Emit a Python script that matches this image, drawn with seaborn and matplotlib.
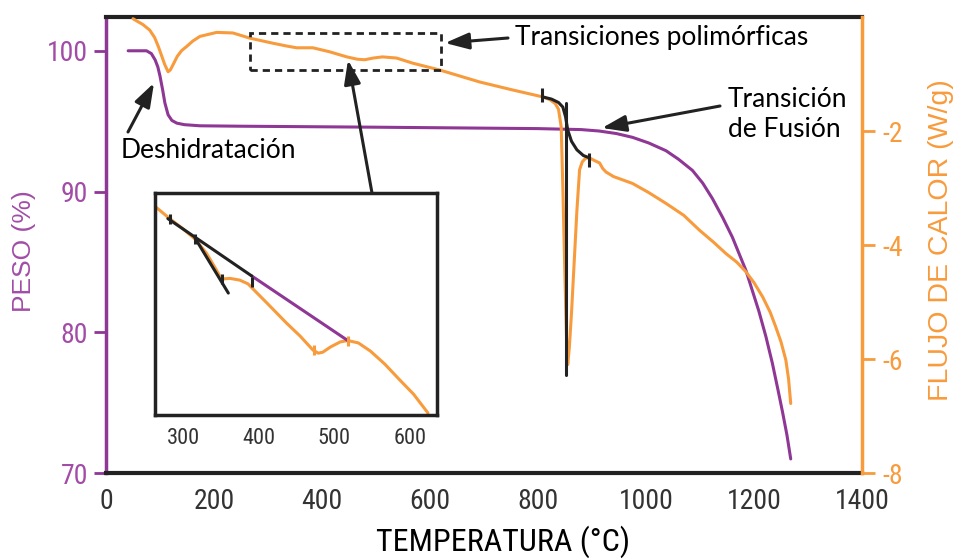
import matplotlib
matplotlib.use("Agg")
import matplotlib.pyplot as plt
from matplotlib.patches import Rectangle
import numpy as np
import pandas as pd
import seaborn as sns

# ---------------- data ----------------
# Weight loss (TGA), left axis
temp_peso = [41, 75, 84, 91, 96, 100, 105, 109, 115, 122, 131, 145, 174, 250, 360,
             500, 650, 800, 880, 913, 945, 975, 1005, 1037, 1060, 1086, 1105, 1123, 1142,
             1160, 1185, 1209, 1222, 1234, 1245, 1253, 1261, 1268]
peso = [100, 100, 99.8, 99.35, 98.85, 98.2, 97.2, 96.3, 95.45, 95.05, 94.86, 94.75, 94.67,
        94.64, 94.61, 94.57, 94.52, 94.47, 94.40, 94.30, 94.12, 93.85, 93.45, 92.9, 92.3,
        91.5, 90.6, 89.5, 88.15, 86.75, 84.4, 81.5, 79.7, 77.8, 75.8, 74.3, 72.7, 71.0]

# Heat flow (DSC), right axis
temp_flujo = [50, 57, 68, 81, 90, 97, 103, 109, 115, 119, 124, 132, 140, 149, 161, 174,
              205, 235, 266, 309, 335, 353, 383, 414, 446, 465, 479, 495, 512, 538, 568,
              618, 692, 753, 808, 822, 832, 838, 843, 846, 850, 853, 855, 858, 862, 867,
              872, 877, 882, 888, 895, 905, 914, 920, 926, 940, 975, 1005, 1037, 1070,
              1099, 1125, 1148, 1168, 1185, 1200, 1216, 1230, 1240, 1250, 1259, 1264, 1268]
flujo = [-0.03, -0.07, -0.13, -0.23, -0.36, -0.52, -0.68, -0.84, -0.96, -0.93, -0.84, -0.69,
         -0.59, -0.52, -0.42, -0.34, -0.27, -0.28, -0.37, -0.46, -0.51, -0.54, -0.54, -0.61,
         -0.70, -0.74, -0.75, -0.72, -0.70, -0.72, -0.81, -0.93, -1.14, -1.28, -1.40, -1.45,
         -1.52, -1.62, -1.93, -3.00, -4.60, -5.70, -6.10, -5.80, -5.20, -4.30, -3.40, -2.68,
         -2.54, -2.48, -2.47, -2.52, -2.56, -2.66, -2.72, -2.80, -2.92, -3.08, -3.27, -3.48,
         -3.74, -3.95, -4.15, -4.30, -4.47, -4.66, -4.91, -5.18, -5.43, -5.70, -6.02, -6.35,
         -6.78]

# Melting transition construction lines (right axis units)
fusion_temp = [808, 825, 838, 846, 851, 855, 862, 872, 884, 895]
fusion_flujo = [-1.40, -1.44, -1.50, -1.58, -1.75, -1.98, -2.18, -2.33, -2.43, -2.47]
fusion_drop_temp = [851, 851]
fusion_drop_flujo = [-1.51, -6.28]
fusion_marks_temp = [808, 895]
fusion_marks_flujo = [-1.37, -2.50]

# Zoomed inset (polymorphic transitions)
inset_temp = [264, 283, 300, 316, 331, 342, 351, 362, 375, 386, 394, 411, 437, 455, 472,
              479, 485, 495, 508, 518, 532, 548, 567, 587, 605, 624]
inset_flujo = [-0.441, -0.476, -0.505, -0.535, -0.576, -0.617, -0.652, -0.650, -0.655,
               -0.666, -0.684, -0.722, -0.781, -0.819, -0.860, -0.869, -0.866, -0.851,
               -0.836, -0.832, -0.839, -0.863, -0.901, -0.948, -0.989, -1.044]
tangent1_temp = [280, 391]
tangent1_flujo = [-0.475, -0.643]
tangent2_temp = [316, 360]
tangent2_flujo = [-0.532, -0.693]
bridge_temp = [391, 518]
bridge_flujo = [-0.643, -0.832]
inset_black_marks_temp = [283, 316, 351, 391]
inset_black_marks_flujo = [-0.476, -0.535, -0.652, -0.660]
inset_orange_marks_temp = [473, 518]
inset_orange_marks_flujo = [-0.860, -0.832]

x_ticks = [0, 200, 400, 600, 800, 1000, 1200, 1400]
peso_ticks = [70, 80, 90, 100]
flujo_ticks = [-8, -6, -4, -2]
inset_ticks = [300, 400, 500, 600]

# ---------------- style ----------------
PURPLE = "#8E3795"
PURPLE_TXT = "#A24CA7"
ORANGE = "#F89B3C"
BLACK = "#222222"
GREY_TXT = "#333333"

sns.set_style("white")
NARROW = ["Roboto Condensed", "Liberation Sans", "DejaVu Sans"]
plt.rcParams["font.family"] = NARROW
plt.rcParams["axes.unicode_minus"] = False

W, H = 958, 558
fig = plt.figure(figsize=(W / 100, H / 100), dpi=100)

L, R, T, B = 106, 862, 17, 473
ax = fig.add_axes([L / W, 1 - B / H, (R - L) / W, (B - T) / H])
ax2 = ax.twinx()

df_w = pd.DataFrame({"temp": temp_peso, "peso": peso})
df_h = pd.DataFrame({"temp": temp_flujo, "flujo": flujo})

sns.lineplot(data=df_w, x="temp", y="peso", ax=ax, color=PURPLE, lw=2.2,
             estimator=None, sort=False)
sns.lineplot(data=df_h, x="temp", y="flujo", ax=ax2, color=ORANGE, lw=2.2,
             estimator=None, sort=False, zorder=2)
sns.lineplot(x=fusion_temp, y=fusion_flujo, ax=ax2, color=BLACK, lw=2.2,
             estimator=None, sort=False, zorder=3)
sns.lineplot(x=fusion_drop_temp, y=fusion_drop_flujo, ax=ax2, color=BLACK, lw=2.2,
             estimator=None, sort=False, zorder=3)
sns.scatterplot(x=fusion_marks_temp, y=fusion_marks_flujo, ax=ax2, marker="|", s=110,
                linewidth=2.2, color=BLACK, zorder=4)

ax.set_xlim(0, 1400)
ax.set_ylim(70, 102.4)
ax2.set_ylim(-8, 0)
ax.set_xticks(x_ticks)
ax.set_yticks(peso_ticks)
ax2.set_yticks(flujo_ticks)
ax.set_xlabel("")
ax.set_ylabel("")
ax2.set_ylabel("")

ax.tick_params(axis="x", direction="out", length=6, width=2, color=BLACK,
               labelsize=20, labelcolor=GREY_TXT, pad=5)
ax.tick_params(axis="y", direction="out", length=9, width=2, color=PURPLE,
               labelsize=20, labelcolor=PURPLE_TXT, pad=4)
ax2.tick_params(axis="y", direction="out", length=9, width=2, color=ORANGE,
                labelsize=20, labelcolor=ORANGE, pad=6)

for s in ["top", "bottom"]:
    ax.spines[s].set_color(BLACK)
    ax.spines[s].set_linewidth(3)
ax.spines["left"].set_color(PURPLE)
ax.spines["left"].set_linewidth(2.5)
ax.spines["right"].set_visible(False)
for s in ["left", "top", "bottom"]:
    ax2.spines[s].set_visible(False)
ax2.spines["right"].set_color(ORANGE)
ax2.spines["right"].set_linewidth(2.5)

# dashed box around polymorphic transitions
ax2.add_patch(Rectangle((266, -0.93), 355, 0.65, fill=False, ls=(0, (2.6, 1.8)),
                        lw=2, ec=BLACK, zorder=3))

# axis titles
fig.text(24 / W, 1 - 251 / H, "PESO (%)", rotation=90, ha="center", va="center",
         fontsize=19, color=PURPLE_TXT, family=["Liberation Sans", "DejaVu Sans"])
fig.text(941 / W, 1 - 240 / H, "FLUJO DE CALOR (W/g)", rotation=90, ha="center",
         va="center", fontsize=20.5, color=ORANGE, family=["Liberation Sans", "DejaVu Sans"])
fig.text(503 / W, 1 - 551 / H, "TEMPERATURA (°C)", ha="center", va="baseline",
         fontsize=23, color="black")

# annotations
ANN_FONT = ["Lato", "DejaVu Sans"]
fig.text(121 / W, 1 - 158 / H, "Deshidratación", ha="left", va="baseline",
         fontsize=19, family=ANN_FONT, color="black")
fig.text(515 / W, 1 - 45 / H, "Transiciones polimórficas", ha="left", va="baseline",
         fontsize=19, family=ANN_FONT, color="black")
fig.text(728 / W, 1 - 107 / H, "Transición", ha="left", va="baseline",
         fontsize=19, family=ANN_FONT, color="black")
fig.text(728 / W, 1 - 137 / H, "de Fusión", ha="left", va="baseline",
         fontsize=19, family=ANN_FONT, color="black")

arrow_kw = dict(arrowstyle="-|>,head_length=1.45,head_width=0.5", mutation_scale=10,
                lw=2.2, color=BLACK, shrinkA=0, shrinkB=0)


def fp(x, y):
    return (x, H - y)


for tail, tip in [((128, 132), (154, 83)), ((508, 38), (445, 43)),
                  ((372, 193), (348, 60)), ((720, 106), (602, 128))]:
    ax2.annotate("", xy=fp(*tip), xytext=fp(*tail), xycoords="figure pixels",
                 textcoords="figure pixels", arrowprops=arrow_kw, zorder=10)

# ---------------- inset ----------------
IL, IR, IT, IB = 155, 437, 193, 415
axin = fig.add_axes([IL / W, 1 - IB / H, (IR - IL) / W, (IB - IT) / H])
axin.set_facecolor("white")
sns.lineplot(x=inset_temp, y=inset_flujo, ax=axin, color=ORANGE, lw=2.2,
             estimator=None, sort=False)
sns.lineplot(x=bridge_temp, y=bridge_flujo, ax=axin, color=PURPLE, lw=2.2,
             estimator=None, sort=False)
sns.lineplot(x=tangent1_temp, y=tangent1_flujo, ax=axin, color=BLACK, lw=2.2,
             estimator=None, sort=False)
sns.lineplot(x=tangent2_temp, y=tangent2_flujo, ax=axin, color=BLACK, lw=2.2,
             estimator=None, sort=False)
sns.scatterplot(x=inset_black_marks_temp, y=inset_black_marks_flujo, ax=axin, marker="|",
                s=55, linewidth=2.2, color=BLACK, zorder=4)
sns.scatterplot(x=inset_orange_marks_temp, y=inset_orange_marks_flujo, ax=axin, marker="|",
                s=55, linewidth=2.2, color=ORANGE, zorder=4)
axin.set_xlim(263, 636)
axin.set_ylim(-1.05, -0.40)
axin.set_xticks(inset_ticks)
axin.set_yticks([])
axin.set_xlabel("")
axin.set_ylabel("")
axin.tick_params(axis="x", direction="out", length=5, width=2, color=BLACK,
                 labelsize=16, labelcolor=GREY_TXT, pad=4)
for s in axin.spines.values():
    s.set_visible(True)
    s.set_color(BLACK)
    s.set_linewidth(2.5)

fig.savefig("out.png", dpi=100)
